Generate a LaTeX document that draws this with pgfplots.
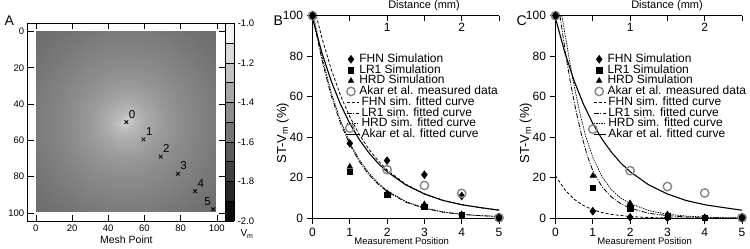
\documentclass[border=0pt]{standalone}
\usepackage{pgfplots}
\pgfplotsset{compat=1.18}
\usepackage{fontspec}
\setmainfont{Liberation Sans}
\pgfplotsset{
  fhnm/.style={only marks, mark=diamond*, mark size=4pt, black, mark options={solid}},
  lr1m/.style={only marks, mark=square*, mark size=2.7pt, black, mark options={solid}},
  hrdm/.style={only marks, mark=triangle*, mark size=3.3pt, black, mark options={solid}},
  akm/.style={only marks, mark=o, mark size=4.2pt, gray!95, mark options={solid, line width=1.4pt}},
  fhnl/.style={no marks, black, line width=0.8pt, dash pattern=on 3pt off 2pt},
  lr1l/.style={no marks, black, line width=0.8pt, dash pattern=on 5pt off 1.5pt on 1pt off 1.5pt},
  hrdl/.style={no marks, black, line width=0.7pt, dash pattern=on 1.5pt off 1pt},
  akl/.style={no marks, black, line width=1.1pt},
  mleg/.style={legend image code/.code={\path (0pt,0pt) (12pt,0pt); \draw[##1] plot coordinates {(6pt,0pt)};}},
  lleg/.style={legend image code/.code={\draw[##1] (0pt,0pt) -- (12pt,0pt);}},
  legst/.style={legend style={draw=none, fill=none, inner sep=0pt, column sep=2pt,
     nodes={inner sep=0.15pt, text height=8.3pt, text depth=2.1pt, font=\fontsize{12}{12}\selectfont},
     cells={anchor=west}}},
  panel/.style={scale only axis, width=186.5pt, height=202.6pt, anchor=south west,
     xmin=0, xmax=5, ymin=0, ymax=100, clip=false,
     axis x line*=bottom, axis y line*=left, axis line style={-, line width=0.8pt},
     xtick={0,...,5}, ytick={0,20,...,100}, tick align=outside, major tick length=6pt,
     tick style={black, line width=0.8pt},
     ticklabel style={font=\fontsize{12}{12}\selectfont},
     /pgf/number format/assume math mode=true,
     xlabel={Measurement Position},
     xlabel style={font=\fontsize{9.5}{10}\selectfont, at={(axis description cs:0.478,-0.114)}, anchor=center},
     ylabel={ST-V\textsubscript{m} (\%)},
     ylabel style={font=\fontsize{13}{14}\selectfont, at={(axis description cs:-0.16,0.42)}, anchor=center},
     legst, mleg},
  toppanel/.style={scale only axis, width=186.5pt, height=202.6pt, anchor=south west,
     xmin=0, xmax=2.5, ymin=0, ymax=100,
     axis x line*=top, axis y line=none, axis line style={-, line width=0.8pt},
     xtick={0.5,1,1.5,2,2.5}, xticklabels={,1,,2,}, tick align=inside, major tick length=5pt,
     tick style={black, line width=0.8pt},
     xticklabel style={font=\fontsize{12}{12}\selectfont, anchor=north, yshift=-4pt},
     xlabel={Distance (mm)},
     xlabel style={font=\fontsize{11}{12}\selectfont, at={(axis description cs:0.598,1)}, anchor=center, yshift=9.7pt},
     legst, lleg},
}
\begin{document}
\begin{tikzpicture}[x=1pt,y=1pt]
\path[use as bounding box] (0,0) rectangle (750,249);
% ---------------- Panel A
\begin{axis}[
  at={(27.7pt,28pt)}, anchor=south west,
  scale only axis, width=197.3pt, height=197.7pt,
  xmin=-4.5, xmax=104.5, ymin=-4.5, ymax=104.5, y dir=reverse,
  xtick={0,20,...,100}, ytick={0,20,...,100},
  tick align=inside, major tick length=6pt,
  tick style={black, line width=0.6pt},
  axis line style={line width=0.8pt},
  ticklabel style={font=\fontsize{9.5}{10}\selectfont},
  /pgf/number format/assume math mode=true,
  xlabel={Mesh Point}, xlabel style={font=\fontsize{10.5}{11}\selectfont, yshift=2pt},
  colormap={grays}{rgb255=(0,0,0) rgb255=(255,255,255)},
  point meta min=-2, point meta max=-1,
  colorbar, colorbar sampled,
  colorbar style={samples=11, at={(1,1)}, anchor=north west, xshift=3.5pt, width=9.3pt,
     ytick={-2,-1.8,-1.6,-1.4,-1.2,-1}, minor ytick={-1.9,-1.7,-1.5,-1.3,-1.1},
     tick align=inside, major tick length=9.3pt, minor tick length=9.3pt,
     tick style={black, line width=0.4pt},
     yticklabel style={font=\fontsize{9.5}{10}\selectfont, /pgf/number format/.cd, fixed, fixed zerofill, precision=1, assume math mode=true}},
]
\addplot[surf, shader=interp, mesh/cols=13, point meta=explicit] coordinates {
(0,0)[-1.575] (10,0)[-1.56] (20,0)[-1.545] (30,0)[-1.53] (40,0)[-1.52] (45,0)[-1.52] (50,0)[-1.52] (55,0)[-1.52] (60,0)[-1.52] (70,0)[-1.53] (80,0)[-1.545] (90,0)[-1.56] (99,0)[-1.575]
(0,10)[-1.56] (10,10)[-1.54] (20,10)[-1.52] (30,10)[-1.50] (40,10)[-1.49] (45,10)[-1.485] (50,10)[-1.485] (55,10)[-1.485] (60,10)[-1.49] (70,10)[-1.50] (80,10)[-1.52] (90,10)[-1.54] (99,10)[-1.56]
(0,20)[-1.545] (10,20)[-1.52] (20,20)[-1.495] (30,20)[-1.47] (40,20)[-1.455] (45,20)[-1.45] (50,20)[-1.45] (55,20)[-1.45] (60,20)[-1.455] (70,20)[-1.47] (80,20)[-1.495] (90,20)[-1.52] (99,20)[-1.545]
(0,30)[-1.53] (10,30)[-1.50] (20,30)[-1.47] (30,30)[-1.44] (40,30)[-1.41] (45,30)[-1.40] (50,30)[-1.395] (55,30)[-1.40] (60,30)[-1.41] (70,30)[-1.44] (80,30)[-1.47] (90,30)[-1.50] (99,30)[-1.53]
(0,40)[-1.52] (10,40)[-1.49] (20,40)[-1.455] (30,40)[-1.41] (40,40)[-1.355] (45,40)[-1.33] (50,40)[-1.32] (55,40)[-1.33] (60,40)[-1.355] (70,40)[-1.41] (80,40)[-1.455] (90,40)[-1.49] (99,40)[-1.52]
(0,45)[-1.52] (10,45)[-1.485] (20,45)[-1.45] (30,45)[-1.40] (40,45)[-1.33] (45,45)[-1.29] (50,45)[-1.26] (55,45)[-1.29] (60,45)[-1.33] (70,45)[-1.40] (80,45)[-1.45] (90,45)[-1.485] (99,45)[-1.52]
(0,50)[-1.52] (10,50)[-1.485] (20,50)[-1.45] (30,50)[-1.395] (40,50)[-1.32] (45,50)[-1.26] (50,50)[-1.17] (55,50)[-1.26] (60,50)[-1.32] (70,50)[-1.395] (80,50)[-1.45] (90,50)[-1.485] (99,50)[-1.52]
(0,55)[-1.52] (10,55)[-1.485] (20,55)[-1.45] (30,55)[-1.40] (40,55)[-1.33] (45,55)[-1.29] (50,55)[-1.26] (55,55)[-1.29] (60,55)[-1.33] (70,55)[-1.40] (80,55)[-1.45] (90,55)[-1.485] (99,55)[-1.52]
(0,60)[-1.52] (10,60)[-1.49] (20,60)[-1.455] (30,60)[-1.41] (40,60)[-1.355] (45,60)[-1.33] (50,60)[-1.32] (55,60)[-1.33] (60,60)[-1.355] (70,60)[-1.41] (80,60)[-1.455] (90,60)[-1.49] (99,60)[-1.52]
(0,70)[-1.53] (10,70)[-1.50] (20,70)[-1.47] (30,70)[-1.44] (40,70)[-1.41] (45,70)[-1.40] (50,70)[-1.395] (55,70)[-1.40] (60,70)[-1.41] (70,70)[-1.44] (80,70)[-1.47] (90,70)[-1.50] (99,70)[-1.53]
(0,80)[-1.545] (10,80)[-1.52] (20,80)[-1.495] (30,80)[-1.47] (40,80)[-1.455] (45,80)[-1.45] (50,80)[-1.45] (55,80)[-1.45] (60,80)[-1.455] (70,80)[-1.47] (80,80)[-1.495] (90,80)[-1.52] (99,80)[-1.545]
(0,90)[-1.56] (10,90)[-1.54] (20,90)[-1.52] (30,90)[-1.50] (40,90)[-1.49] (45,90)[-1.485] (50,90)[-1.485] (55,90)[-1.485] (60,90)[-1.49] (70,90)[-1.50] (80,90)[-1.52] (90,90)[-1.54] (99,90)[-1.56]
(0,99)[-1.575] (10,99)[-1.56] (20,99)[-1.545] (30,99)[-1.53] (40,99)[-1.52] (45,99)[-1.52] (50,99)[-1.52] (55,99)[-1.52] (60,99)[-1.52] (70,99)[-1.53] (80,99)[-1.545] (90,99)[-1.56] (99,99)[-1.575]
};
\addplot[only marks, mark=x, mark size=2.6pt, line width=0.8pt, black,
  point meta=explicit symbolic, nodes near coords,
  nodes near coords style={anchor=center, xshift=5.7pt, yshift=8pt, font=\fontsize{11.5}{12}\selectfont, black}]
  coordinates {(50,50)[0] (59.5,59.5)[1] (69,69)[2] (78.5,78.5)[3] (88,88)[4]};
\addplot[only marks, mark=x, mark size=2.6pt, line width=0.8pt, black,
  point meta=explicit symbolic, nodes near coords,
  nodes near coords style={anchor=center, xshift=-5.7pt, yshift=8pt, font=\fontsize{11.5}{12}\selectfont, black}]
  coordinates {(98,98)[5]};
\end{axis}
\node[font=\fontsize{10}{11}\selectfont] at (247,15) {V\textsubscript{m}};
\node[font=\fontsize{14}{15}\selectfont] at (9.3,228.3) {A};
\node[font=\fontsize{14}{15}\selectfont] at (278.3,228.3) {B};
\node[font=\fontsize{14}{15}\selectfont] at (521.7,228.3) {C};
% ---------------- Panel B
\begin{axis}[panel, at={(312.5pt,30.7pt)},
  legend style={at={(0.172,0.812)}, anchor=north west}]
\addplot[fhnl, forget plot] coordinates {(0.1,100)(0.25,89.3)(0.5,73.6)(0.75,60.7)(1,50.1)(1.25,41.5)(1.5,34.4)(1.75,28.6)(2,23.9)(2.5,16.8)(3,12.1)(3.5,8.9)(4,6.8)(4.5,5.2)(5,4.1)};
\addplot[lr1l, forget plot] coordinates {(0,100)(0.25,78.4)(0.5,60.6)(0.75,47.0)(1,36.4)(1.25,28.2)(1.5,21.8)(1.75,17.0)(2,13.2)(2.5,8.0)(3,4.9)(3.5,3.0)(4,1.9)(4.5,1.3)(5,0.9)};
\addplot[hrdl, forget plot] coordinates {(0.03,100)(0.25,80.1)(0.5,62.2)(0.75,48.2)(1,37.4)(1.25,29.1)(1.5,22.6)(1.75,17.6)(2,13.7)(2.5,8.3)(3,5.1)(3.5,3.2)(4,2.0)(4.5,1.3)(5,0.9)};
\addplot[akl, forget plot] coordinates {(0,98.8)(0.25,81.8)(0.5,67.8)(0.75,56.3)(1,46.8)(1.25,39.0)(1.5,32.6)(1.75,27.3)(2,23.0)(2.5,16.5)(3,12.0)(3.5,8.8)(4,6.7)(4.5,5.3)(5,4.0)};
\addplot[fhnm] coordinates {(0,100)(1,37)(2,28.5)(3,21.5)(4,11)(5,0.5)};
\addlegendentry{FHN Simulation}
\addplot[lr1m] coordinates {(0,100)(1,23)(2,11.5)(3,5.7)(4,1.6)(5,0.3)};
\addlegendentry{LR1 Simulation}
\addplot[hrdm] coordinates {(0,100)(1,25.5)(2,12.5)(3,7)(4,2)(5,0.3)};
\addlegendentry{HRD Simulation}
\addplot[akm] coordinates {(0,100)(1,44.5)(2,24)(3,16.2)(4,12.3)(5,0.3)};
\addlegendentry{Akar et al. measured data}
\addplot[fhnm, forget plot] coordinates {(0,100)(5,0.3)};
\end{axis}
\begin{axis}[toppanel, at={(312.5pt,30.7pt)},
  legend style={at={(0.18,0.60)}, anchor=north west}]
\addlegendimage{fhnl}\addlegendentry{FHN sim. fitted curve}
\addlegendimage{lr1l}\addlegendentry{LR1 sim. fitted curve}
\addlegendimage{hrdl}\addlegendentry{HRD sim. fitted curve}
\addlegendimage{akl}\addlegendentry{Akar et al. fitted curve}
\end{axis}
% ---------------- Panel C
\begin{axis}[panel, at={(555.5pt,30.7pt)},
  legend style={at={(0.2,0.812)}, anchor=north west}]
\addplot[fhnl, forget plot] coordinates {(0,21)(0.25,14.1)(0.5,9.4)(0.75,6.3)(1,4.2)(1.25,2.8)(1.5,1.9)(2,0.86)(2.5,0.38)(3,0.17)(4,0.05)(5,0.02)};
\addplot[lr1l, forget plot] coordinates {(0.12,100)(0.2,90)(0.3,78)(0.4,67)(0.55,53)(0.7,41)(0.85,31)(1,23.5)(1.25,15.5)(1.5,10.5)(1.75,7.2)(2,5)(2.5,2.5)(3,1.3)(3.5,0.7)(4,0.4)(4.5,0.2)(5,0.1)};
\addplot[hrdl, forget plot] coordinates {(0.17,100)(0.3,86)(0.45,70)(0.64,53)(0.8,41)(1,30)(1.25,20.5)(1.5,14)(1.75,10)(2,7.3)(2.5,3.8)(3,2)(3.5,1.1)(4,0.6)(4.5,0.3)(5,0.2)};
\addplot[akl, forget plot] coordinates {(0,98.8)(0.25,81.8)(0.5,67.8)(0.75,56.3)(1,46.8)(1.25,39.0)(1.5,32.6)(1.75,27.3)(2,23.0)(2.5,16.5)(3,12.0)(3.5,8.8)(4,6.7)(4.5,5.3)(5,4.0)};
\addplot[fhnm] coordinates {(0,100)(1,3.5)(2,0.5)(3,0.3)(4,0.2)(5,0.3)};
\addlegendentry{FHN Simulation}
\addplot[lr1m] coordinates {(0,100)(1,15)(2,5)(3,1)(4,0.2)(5,0.2)};
\addlegendentry{LR1 Simulation}
\addplot[hrdm] coordinates {(0,100)(1,21)(2,7.5)(3,2)(4,0.5)(5,0.3)};
\addlegendentry{HRD Simulation}
\addplot[akm] coordinates {(0,100)(1,44)(2,23.5)(3,15.7)(4,12.5)(5,0.3)};
\addlegendentry{Akar et al. measured data}
\addplot[fhnm, forget plot] coordinates {(0,100)(5,0.3)};
\end{axis}
\begin{axis}[toppanel, at={(555.5pt,30.7pt)},
  legend style={at={(0.2,0.60)}, anchor=north west}]
\addlegendimage{fhnl}\addlegendentry{FHN sim. fitted curve}
\addlegendimage{lr1l}\addlegendentry{LR1 sim. fitted curve}
\addlegendimage{hrdl}\addlegendentry{HRD sim. fitted curve}
\addlegendimage{akl}\addlegendentry{Akar et al. fitted curve}
\end{axis}
\end{tikzpicture}
\end{document}
